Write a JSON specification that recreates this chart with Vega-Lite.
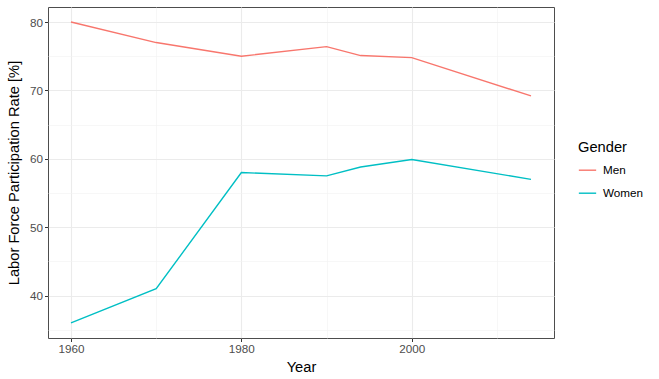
{
  "$schema": "https://vega.github.io/schema/vega-lite/v6.json",
  "width": 506,
  "height": 331,
  "autosize": "none",
  "padding": {"left": 48, "top": 7, "right": 105, "bottom": 41},
  "background": "white",
  "config": {
    "font": "Liberation Sans",
    "view": {"stroke": "#4D4D4D", "strokeWidth": 1},
    "axis": {
      "domain": false,
      "tickColor": "#333333",
      "tickSize": 3.5,
      "tickWidth": 1,
      "labelColor": "#4D4D4D",
      "labelFontSize": 11.7,
      "labelFont": "Liberation Sans",
      "titleFont": "Liberation Sans",
      "titleFontSize": 14.7,
      "titleFontWeight": "normal",
      "titleColor": "#000000"
    }
  },
  "data": {
    "values": [
      {"Year": 1960, "Rate": 80.0, "Gender": "Men"},
      {"Year": 1970, "Rate": 77.0, "Gender": "Men"},
      {"Year": 1980, "Rate": 75.0, "Gender": "Men"},
      {"Year": 1990, "Rate": 76.4, "Gender": "Men"},
      {"Year": 1994, "Rate": 75.1, "Gender": "Men"},
      {"Year": 2000, "Rate": 74.8, "Gender": "Men"},
      {"Year": 2014, "Rate": 69.2, "Gender": "Men"},
      {"Year": 1960, "Rate": 36.0, "Gender": "Women"},
      {"Year": 1970, "Rate": 41.0, "Gender": "Women"},
      {"Year": 1980, "Rate": 58.0, "Gender": "Women"},
      {"Year": 1990, "Rate": 57.5, "Gender": "Women"},
      {"Year": 1994, "Rate": 58.8, "Gender": "Women"},
      {"Year": 2000, "Rate": 59.9, "Gender": "Women"},
      {"Year": 2014, "Rate": 57.0, "Gender": "Women"}
    ]
  },
  "mark": {"type": "line", "strokeWidth": 1.4},
  "encoding": {
    "x": {
      "field": "Year",
      "type": "quantitative",
      "scale": {"domain": [1957.3, 2016.7], "nice": false, "zero": false},
      "axis": {
        "title": "Year",
        "values": [1960, 1970, 1980, 1990, 2000, 2010],
        "labelExpr": "datum.value % 20 === 0 ? datum.label : ''",
        "format": "d",
        "gridColor": {"condition": {"test": "datum.value % 20 === 0", "value": "#EBEBEB"}, "value": "#F2F2F2"},
        "gridWidth": {"condition": {"test": "datum.value % 20 === 0", "value": 1.1}, "value": 0.6},
        "tickOpacity": {"condition": {"test": "datum.value % 20 === 0", "value": 1}, "value": 0},
        "labelPadding": 2,
        "titlePadding": 4
      }
    },
    "y": {
      "field": "Rate",
      "type": "quantitative",
      "scale": {"domain": [33.8, 82.2], "nice": false, "zero": false},
      "axis": {
        "title": "Labor Force Participation Rate [%]",
        "values": [35, 40, 45, 50, 55, 60, 65, 70, 75, 80],
        "labelExpr": "datum.value % 10 === 0 ? datum.label : ''",
        "gridColor": {"condition": {"test": "datum.value % 10 === 0", "value": "#EBEBEB"}, "value": "#F2F2F2"},
        "gridWidth": {"condition": {"test": "datum.value % 10 === 0", "value": 1.1}, "value": 0.6},
        "tickOpacity": {"condition": {"test": "datum.value % 10 === 0", "value": 1}, "value": 0},
        "labelPadding": 2,
        "titlePadding": 8
      }
    },
    "color": {
      "field": "Gender",
      "type": "nominal",
      "scale": {"domain": ["Men", "Women"], "range": ["#F8766D", "#00BFC4"]},
      "legend": {
        "title": "Gender",
        "orient": "none",
        "legendX": 530,
        "legendY": 133,
        "titleFontSize": 14.7,
        "titleFontWeight": "normal",
        "titleColor": "#000000",
        "titlePadding": 6,
        "labelFontSize": 11.7,
        "labelColor": "#000000",
        "labelOffset": 6,
        "symbolType": "stroke",
        "symbolSize": 300,
        "symbolStrokeWidth": 1.4,
        "rowPadding": 6
      }
    }
  }
}
